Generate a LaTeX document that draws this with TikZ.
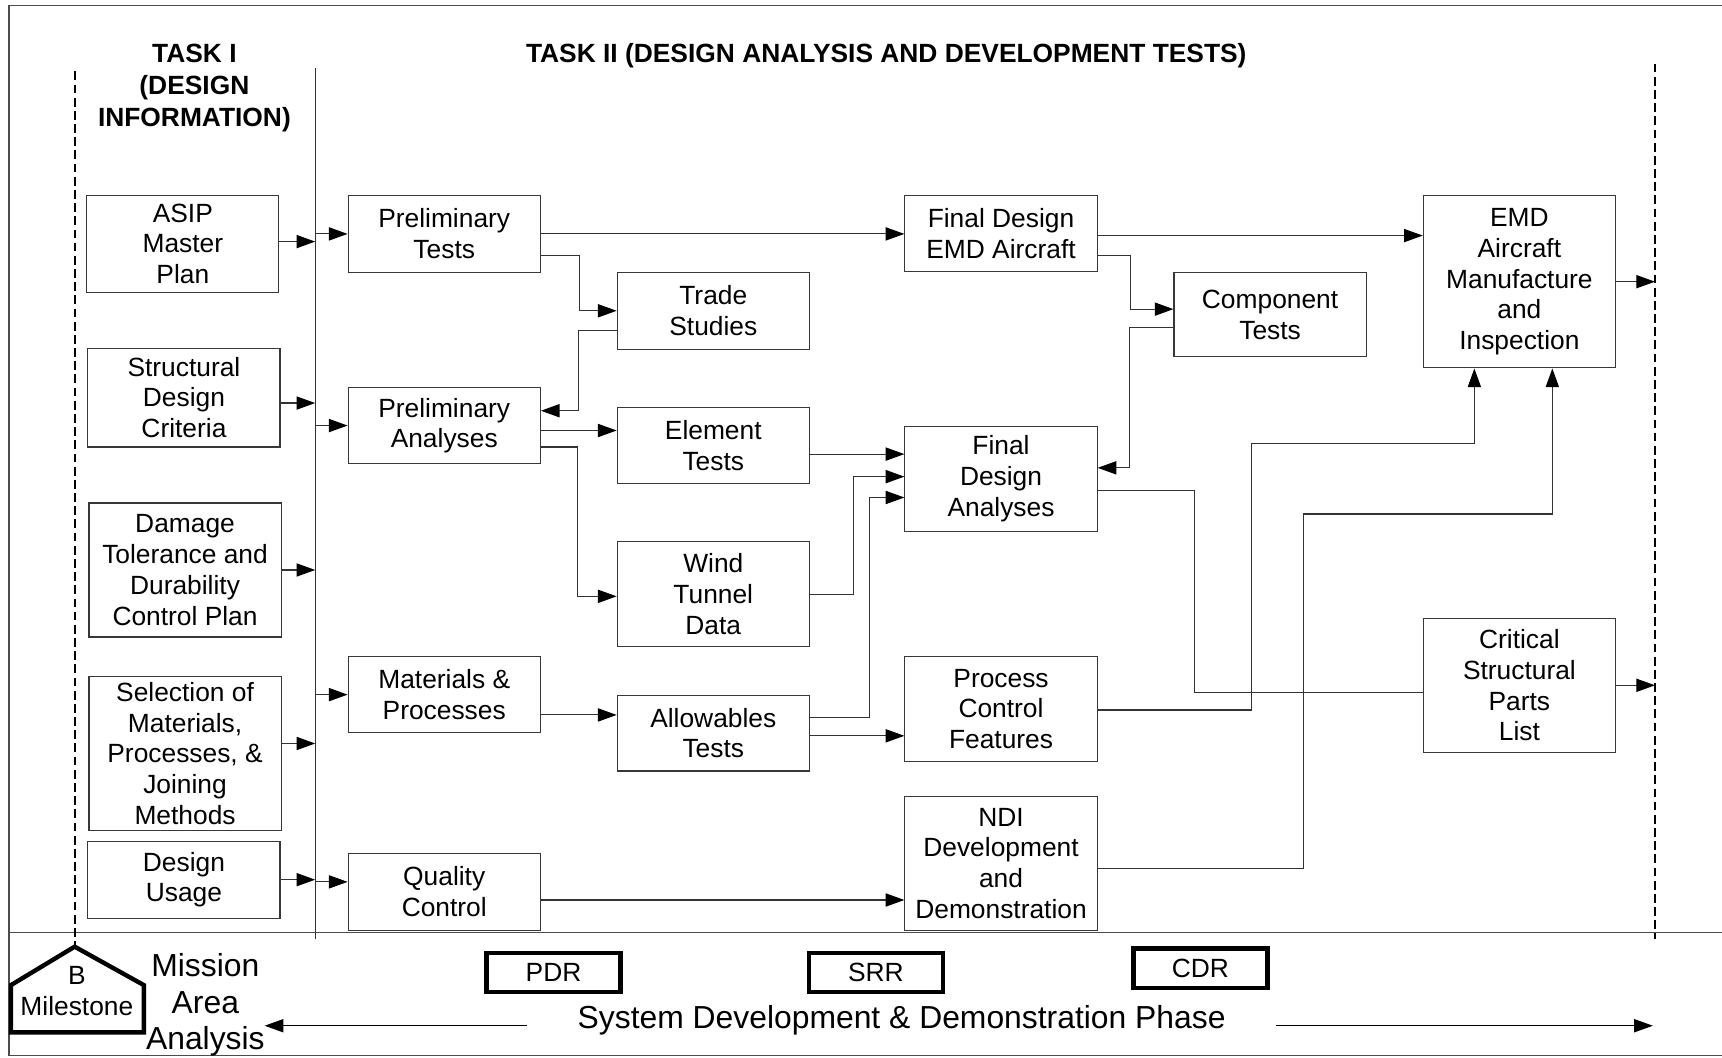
\documentclass[tikz,border=0pt]{standalone}
\usepackage{fontspec}
\setmainfont{Liberation Sans}
\usetikzlibrary{arrows.meta,calc}
\begin{document}
\begin{tikzpicture}[x=1pt,y=-1pt,
  box/.style={draw=black!78, line width=1pt, inner sep=0pt, align=center,
    font=\fontsize{24}{28}\selectfont, minimum width=175pt},
  conn/.style={draw=black!80, line width=1pt},
  arr/.style={conn, -{Triangle[length=17pt,width=12pt,color=black]}},
  dashline/.style={draw=black, line width=2pt, dash pattern=on 8pt off 4pt},
  milebox/.style={draw=black, line width=4pt, inner sep=0pt, minimum width=122pt,
    minimum height=36pt, font=\fontsize{24}{28}\selectfont},
  title/.style={font=\bfseries\fontsize{24}{29}\selectfont, align=center, inner sep=0pt},
  big/.style={font=\fontsize{29}{33}\selectfont, align=center, inner sep=0pt},
  lbl/.style={font=\fontsize{24}{28}\selectfont, inner sep=0pt}]
\useasboundingbox (0,0) rectangle (1568,963);

% frame
\draw[draw=black!70, line width=1.5pt] (1568,5) -- (8,5) -- (8,961) -- (1568,961);
\draw[draw=black!70, line width=1.5pt] (8,849) -- (1568,849);

% titles
\node[title] (t1) at (177,80) {TASK I\\(DESIGN\\INFORMATION)};
\node[title] (t2) at (807,51) {TASK II (DESIGN ANALYSIS AND DEVELOPMENT TESTS)};

% guide lines
\coordinate (vt) at (287,62);
\coordinate (vb) at (287,855);
\draw[conn] (vt) -- (vb);
\coordinate (hapex) at (68,862);
\coordinate (ldt) at (68,65);
\draw[dashline] (ldt) -- (hapex);
\coordinate (rdt) at (1507,58);
\coordinate (rdb) at (1507,855);
\draw[dashline] (rdt) -- (rdb);

% column 1
\node[box, minimum height=88pt]  (asip) at (166.5,222) {ASIP\\Master\\Plan};
\node[box, minimum height=90pt]  (sdc)  at (167.5,362) {Structural\\Design\\Criteria};
\node[box, minimum height=122pt] (dtd)  at (168.5,519) {Damage\\Tolerance and\\Durability\\Control Plan};
\node[box, minimum height=140pt] (smp)  at (168.5,686) {Selection of\\Materials,\\Processes, \&\\Joining\\Methods};
\node[box, minimum height=70pt]  (du)   at (167.5,801) {Design\\Usage};

% column 2
\node[box, minimum height=70pt] (pt) at (404.5,213)   {Preliminary\\Tests};
\node[box, minimum height=69pt] (pa) at (404.5,387.5) {Preliminary\\Analyses};
\node[box, minimum height=69pt] (mp) at (404.5,632.5) {Materials \&\\Processes};
\node[box, minimum height=70pt] (qc) at (404.5,812)   {Quality\\Control};

% column 3
\node[box, minimum height=70pt] (ts) at (649.5,283)   {Trade\\Studies};
\node[box, minimum height=69pt] (et) at (649.5,405.5) {Element\\Tests};
\node[box, minimum height=96pt] (wt) at (649.5,541)   {Wind\\Tunnel\\Data};
\node[box, minimum height=69pt] (at) at (649.5,667.5) {Allowables\\Tests};

% column 4
\node[box, minimum height=69pt]  (fde) at (911.5,212.5) {Final Design\\EMD Aircraft};
\node[box, minimum height=96pt]  (fda) at (911.5,436)   {Final\\Design\\Analyses};
\node[box, minimum height=95pt]  (pcf) at (911.5,645.5) {Process\\Control\\Features};
\node[box, minimum height=122pt] (ndi) at (911.5,786)   {NDI\\Development\\and\\Demonstration};

% column 5/6
\node[box, minimum height=77pt]  (ct)  at (1156.5,286.5) {Component\\Tests};
\node[box, minimum height=157pt] (emd) at (1383.5,256.5) {EMD\\Aircraft\\Manufacture\\and\\Inspection};
\node[box, minimum height=122pt] (csp) at (1383.5,624)   {Critical\\Structural\\Parts\\List};

% task I -> line
\draw[arr] ([yshift=2pt]asip.east) -- ([yshift=2pt]asip.east -| vt);
\draw[arr] ([yshift=-5pt]sdc.east) -- ([yshift=-5pt]sdc.east -| vt);
\draw[arr] (dtd.east) -- (dtd.east -| vt);
\draw[arr] ([yshift=9pt]smp.east) -- ([yshift=9pt]smp.east -| vt);
\draw[arr] (du.east) -- (du.east -| vt);

% line -> column 2
\draw[arr] (pt.west -| vt) -- (pt.west);
\draw[arr] (pa.west -| vt) -- (pa.west);
\draw[arr] (mp.west -| vt) -- (mp.west);
\draw[arr] ([yshift=9pt]qc.west -| vt) -- ([yshift=9pt]qc.west);

% column 2 -> 3 / 4
\draw[arr] (pt.east) -- (pt.east -| fde.west);
\draw[arr] ([yshift=-20pt]pt.east) -- ++(35,0) |- (ts.west);
\draw[arr] ([yshift=-18pt]ts.west) -- ++(-35,0) |- ([yshift=13.5pt]pa.east);
\draw[arr] ([yshift=-4.5pt]pa.east) -- ([yshift=-4.5pt]pa.east -| et.west);
\draw[arr] ([yshift=-19.5pt]pa.east) -- ++(33,0) |- ([yshift=-2pt]wt.west);
\draw[arr] ([yshift=-18.5pt]mp.east) -- ([yshift=-18.5pt]mp.east -| at.west);
\draw[arr] ([yshift=-7.5pt]qc.east) -- ([yshift=-7.5pt]qc.east -| ndi.west);

% column 3 -> 4
\draw[arr] ([yshift=-8pt]et.east) -- ([yshift=-8pt]et.east -| fda.west);
\draw[arr] (wt.east) -- ++(40,0) |- ([yshift=2pt]fda.west);
\draw[arr] ([yshift=14.5pt]at.east) -- ++(54,0) |- ([yshift=-17pt]fda.west);
\draw[arr] ([yshift=-2.5pt]at.east) -- ([yshift=-2.5pt]at.east -| pcf.west);

% column 4 -> right
\draw[arr] ([yshift=-2pt]fde.east) -- ([yshift=-2pt]fde.east -| emd.west);
\draw[arr] ([yshift=-20.5pt]fde.east) -- ++(30,0) |- ([yshift=5pt]ct.west);
\draw[arr] ([yshift=-12pt]ct.west) -- ++(-40,0) |- ([yshift=10pt]fda.east);
\draw[conn] ([yshift=-10.5pt]fda.east) -- ++(88,0) |- ([yshift=-6.5pt]csp.west);
\draw[arr] ([yshift=-1pt]pcf.east) -- ++(140,0) -- ++(0,-243) -| ([xshift=-41pt]emd.south);
\draw[arr] ([yshift=-5pt]ndi.east) -- ++(187,0) -- ++(0,-323) -| ([xshift=30pt]emd.south);
\draw[arr] (emd.east) -- (emd.east -| rdt);
\draw[arr] (csp.east) -- (csp.east -| rdt);

% bottom band
\draw[line width=4pt, line join=miter] (10,897) -- (hapex) -- (131,897) -- (131,940) -- (10,940) -- cycle;
\node[lbl] (hb) at (70,888) {B};
\node[lbl] (hm) at (70,916) {Milestone};
\node[big] (maa) at (187,915) {Mission\\Area\\Analysis};
\node[milebox] (pdr) at (504,885.5) {PDR};
\node[milebox] (srr) at (797.5,885.5) {SRR};
\node[milebox] (cdr) at (1093,881.5) {CDR};
\node[big] (sdd) at (821,929) {System Development \& Demonstration Phase};
\coordinate (la) at (241,934);
\coordinate (ra) at (1505,934);
\draw[arr, draw=black] ([shift={(-46pt,-5pt)}]sdd.west) -- (la);
\draw[arr, draw=black] ([shift={(46pt,-5pt)}]sdd.east) -- (ra);
\end{tikzpicture}
\end{document}
